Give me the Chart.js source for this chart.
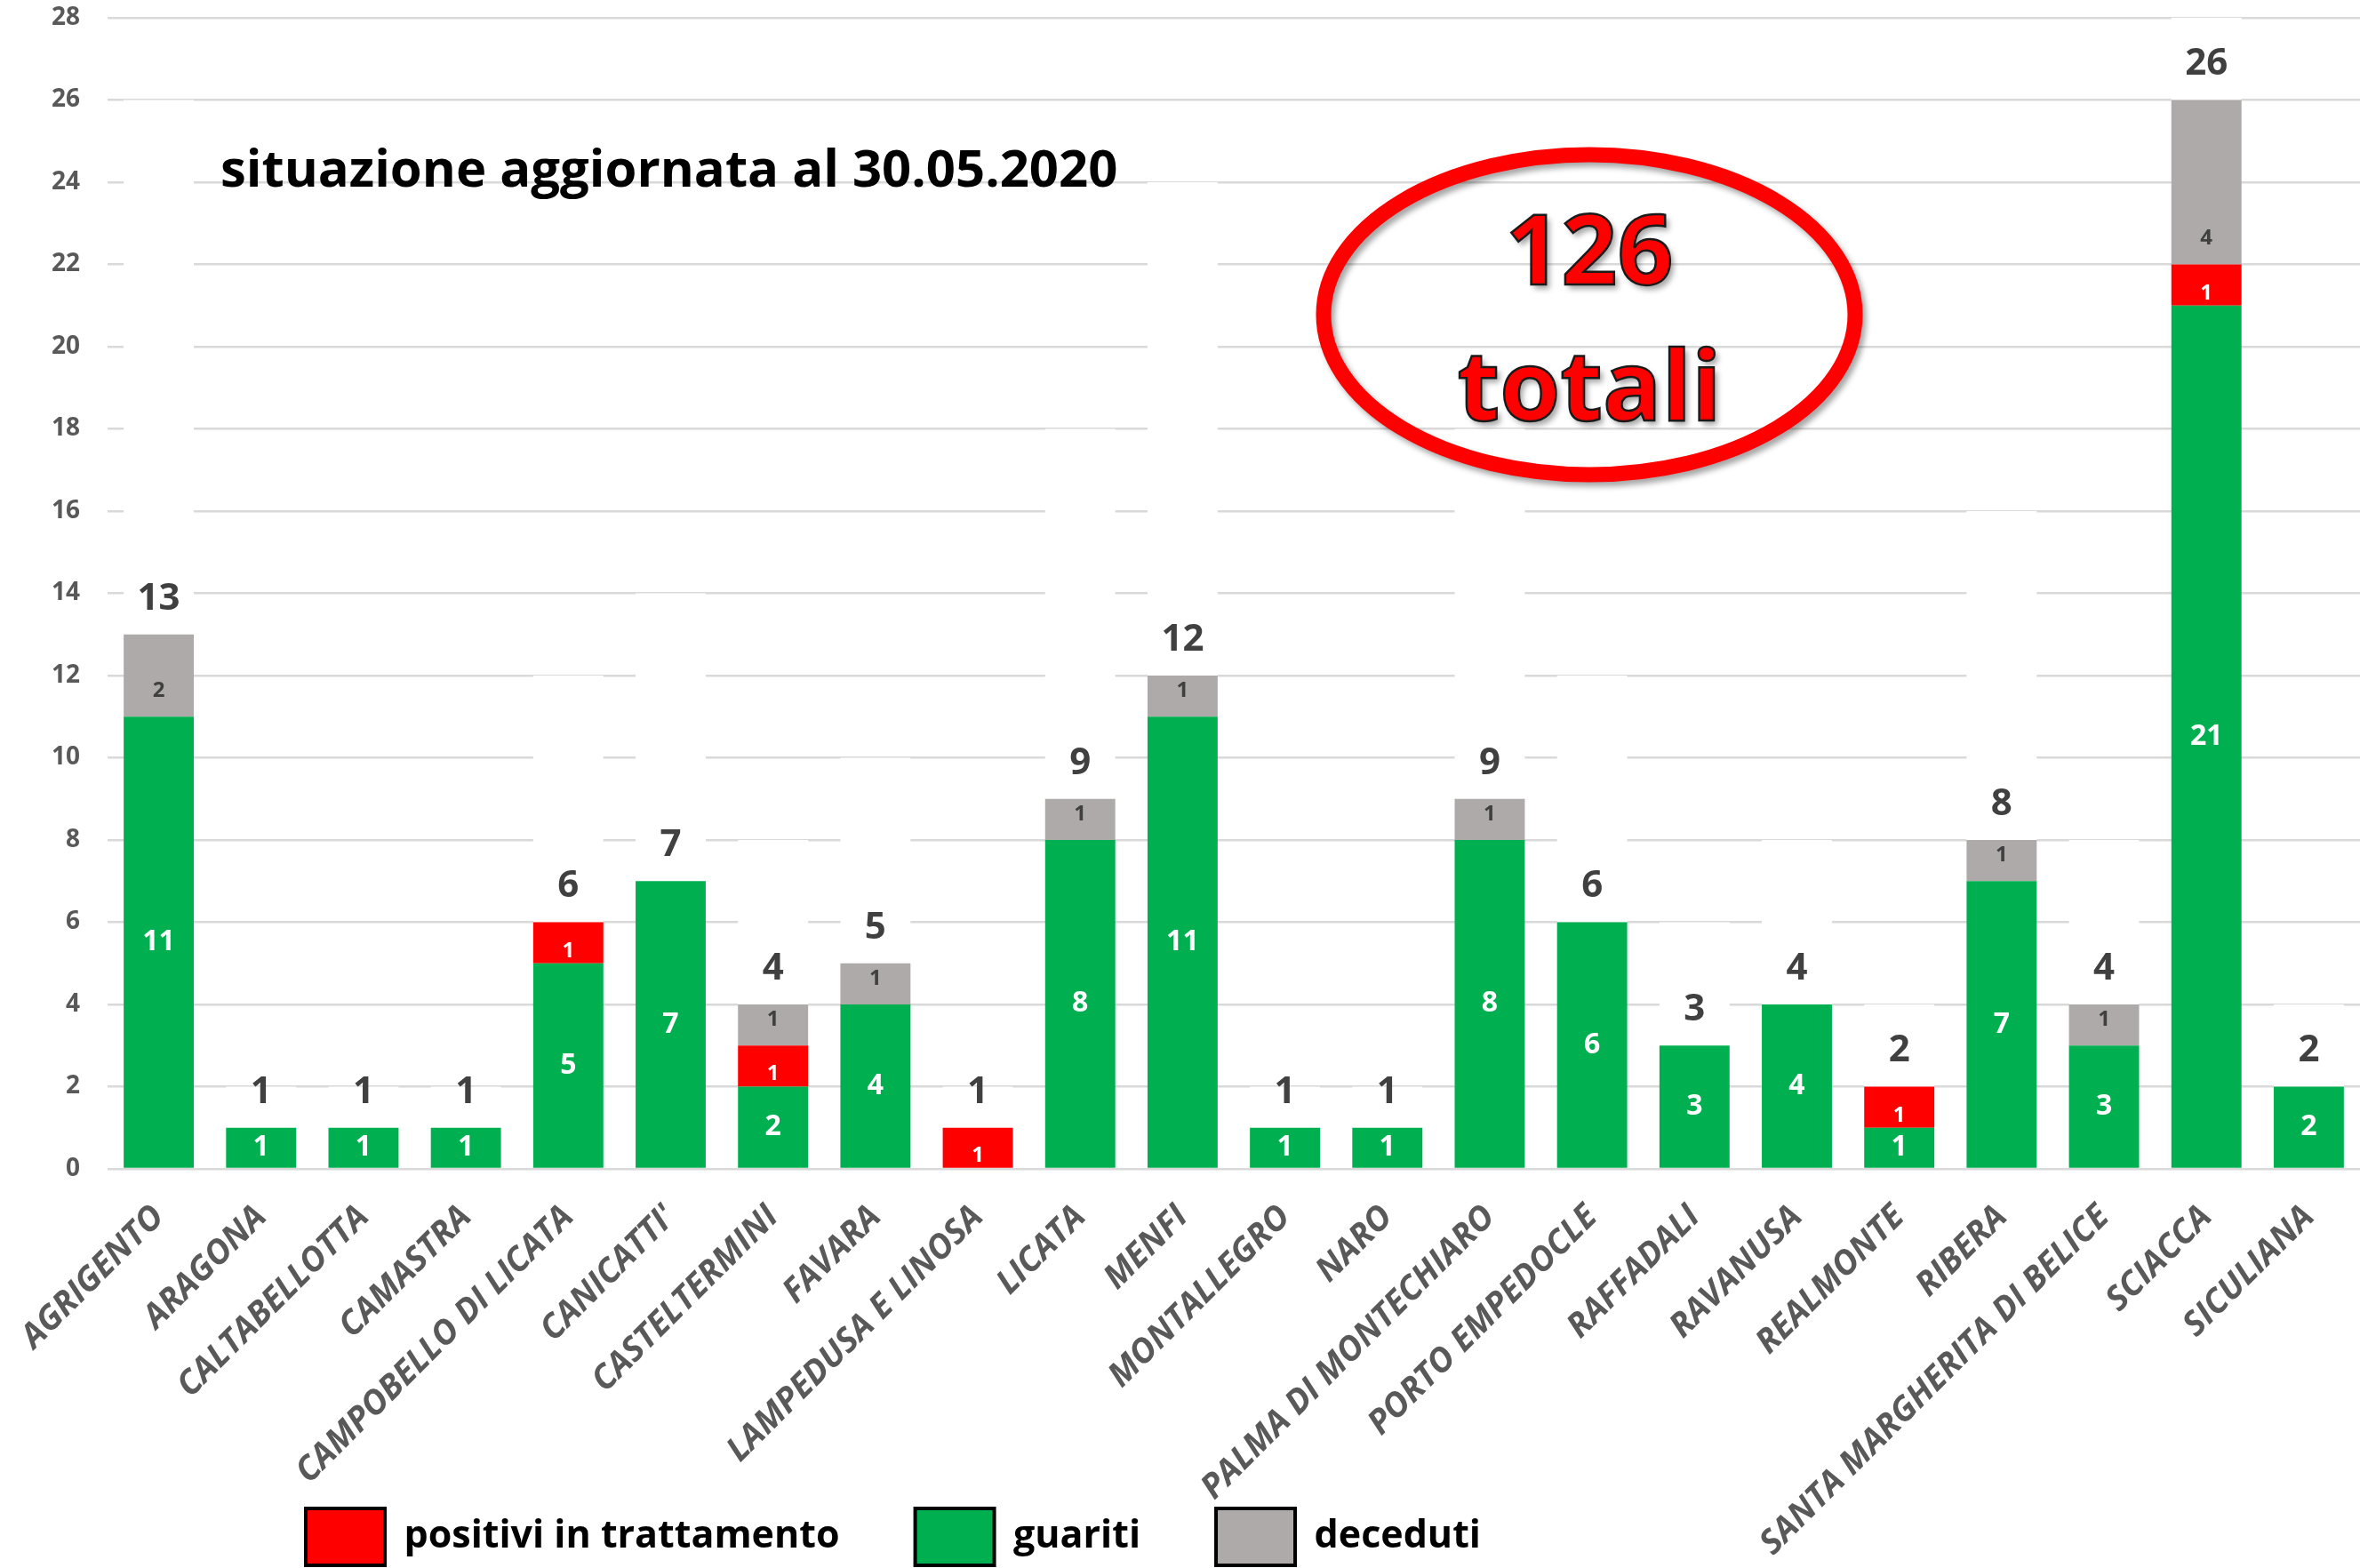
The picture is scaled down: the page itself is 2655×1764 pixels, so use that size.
<!DOCTYPE html>
<html>
<head>
<meta charset="utf-8">
<script src="https://cdn.jsdelivr.net/npm/chart.js@4.4.1/dist/chart.umd.min.js"></script>
<style>
  html, body { margin: 0; padding: 0; background: #fff; }
</style>
</head>
<body>
<canvas id="grafico" width="2655" height="1764"></canvas>
<script>
const comuni = ["AGRIGENTO", "ARAGONA", "CALTABELLOTTA", "CAMASTRA", "CAMPOBELLO DI LICATA",
  "CANICATTI'", "CASTELTERMINI", "FAVARA", "LAMPEDUSA E LINOSA", "LICATA", "MENFI",
  "MONTALLEGRO", "NARO", "PALMA DI MONTECHIARO", "PORTO EMPEDOCLE", "RAFFADALI",
  "RAVANUSA", "REALMONTE", "RIBERA", "SANTA MARGHERITA DI BELICE", "SCIACCA", "SICULIANA"];
const guariti  = [11, 1, 1, 1, 5, 7, 2, 4, 0, 8, 11, 1, 1, 8, 6, 3, 4, 1, 7, 3, 21, 2];
const positivi = [0, 0, 0, 0, 1, 0, 1, 0, 1, 0, 0, 0, 0, 0, 0, 0, 0, 1, 0, 0, 1, 0];
const deceduti = [2, 0, 0, 0, 0, 0, 1, 1, 0, 1, 1, 0, 0, 1, 0, 0, 0, 0, 1, 1, 4, 0];
const totali   = [13, 1, 1, 1, 6, 7, 4, 5, 1, 9, 12, 1, 1, 9, 6, 3, 4, 2, 8, 4, 26, 2];
const yMax = 28;
const yStep = 2;
const titolo = "situazione aggiornata al 30.05.2020";
const totaleGenerale = ["126", "totali"];

Chart.defaults.font.family = "'Open Sans', sans-serif";

// numeri dentro e sopra le barre
const etichette = {
  id: "etichette",
  afterDatasetsDraw(chart) {
    const ctx = chart.ctx;
    ctx.save();
    ctx.textAlign = "center";
    ctx.textBaseline = "middle";
    chart.data.datasets.forEach((ds, di) => {
      const meta = chart.getDatasetMeta(di);
      meta.data.forEach((bar, i) => {
        const v = ds.data[i];
        if (!v) return;
        let y;
        if (di === 0) {
          ctx.font = "700 32px 'Open Sans'";
          ctx.fillStyle = "#ffffff";
          y = (bar.y + bar.base) / 2;
        } else if (di === 1) {
          ctx.font = "700 24px 'Open Sans'";
          ctx.fillStyle = "#ffffff";
          y = bar.base - 14;
        } else if (di === 2) {
          ctx.font = "700 24px 'Open Sans'";
          ctx.fillStyle = "#404040";
          y = bar.base - 29;
        } else {
          ctx.font = "700 42px 'Open Sans'";
          ctx.fillStyle = "#404040";
          y = bar.base - 40;
        }
        ctx.fillText(String(v), bar.x, y);
      });
    });
    ctx.restore();
  }
};

// titolo e ovale con il totale
const decorazioni = {
  id: "decorazioni",
  afterLayout(chart) {
    // legenda spostata come nell'originale, etichette x libere fino in fondo
    chart.legend.left = 259;
    chart.legend.top += 7;
    chart.legend.bottom += 7;
    chart.scales.x.bottom = chart.height;
  },
  afterDraw(chart) {
    const ctx = chart.ctx;
    ctx.save();
    ctx.fillStyle = "#000";
    ctx.font = "700 58px 'Open Sans'";
    ctx.textAlign = "left";
    ctx.textBaseline = "alphabetic";
    ctx.fillText(titolo, 248, 210);

    ctx.shadowColor = "rgba(0,0,0,0.35)";
    ctx.shadowOffsetX = 4;
    ctx.shadowOffsetY = 5;
    ctx.shadowBlur = 6;
    ctx.beginPath();
    ctx.ellipse(1788, 354, 299, 180, 0, 0, Math.PI * 2);
    ctx.strokeStyle = "#ff0000";
    ctx.lineWidth = 17;
    ctx.stroke();

    ctx.font = "700 110px 'Open Sans'";
    ctx.textAlign = "center";
    ctx.fillStyle = "#ff0000";
    ctx.fillText(totaleGenerale[0], 1788, 320);
    ctx.fillText(totaleGenerale[1], 1788, 473);
    ctx.shadowColor = "transparent";
    ctx.strokeStyle = "#1a1a1a";
    ctx.lineWidth = 2.5;
    ctx.strokeText(totaleGenerale[0], 1788, 320);
    ctx.strokeText(totaleGenerale[1], 1788, 473);
    ctx.restore();
  }
};

const ordineLegenda = [1, 0, 2, 3];

new Chart(document.getElementById("grafico"), {
  type: "bar",
  data: {
    labels: comuni,
    datasets: [
      { label: "guariti", data: guariti, backgroundColor: "#00B050" },
      { label: "positivi in trattamento", data: positivi, backgroundColor: "#FF0000" },
      { label: "deceduti", data: deceduti, backgroundColor: "#AEAAAA" },
      { label: "totale", data: totali, backgroundColor: "#ffffff" }
    ]
  },
  options: {
    responsive: false,
    animation: false,
    devicePixelRatio: 1,
    categoryPercentage: 1,
    barPercentage: 0.685,
    layout: { padding: { top: 20, right: 0, left: 0, bottom: 0 } },
    scales: {
      x: {
        stacked: true,
        grid: { display: false },
        border: { display: false },
        ticks: {
          autoSkip: false,
          minRotation: 45,
          maxRotation: 45,
          padding: 24,
          color: "#595959",
          font: { size: 38, style: "italic", weight: "700" }
        },
        afterFit(scale) { scale.height = 290; }
      },
      y: {
        stacked: true,
        min: 0,
        max: yMax,
        grid: { color: "#D9D9D9", lineWidth: 2.5, drawTicks: false },
        border: { display: false },
        ticks: {
          stepSize: yStep,
          padding: 31,
          color: "#595959",
          font: { size: 28, weight: "700" }
        },
        afterFit(scale) {
          scale.width = 121;
          scale.paddingTop = 0;
          scale.paddingBottom = 0;
        }
      }
    },
    plugins: {
      tooltip: { enabled: false },
      legend: {
        position: "bottom",
        align: "start",
        labels: {
          boxWidth: 89,
          boxHeight: 64,
          padding: 85,
          color: "#000",
          font: { size: 43, weight: "700" },
          filter: (item) => item.datasetIndex !== 3,
          sort: (a, b) => ordineLegenda[a.datasetIndex] - ordineLegenda[b.datasetIndex],
          generateLabels(chart) {
            const items = Chart.defaults.plugins.legend.labels.generateLabels(chart);
            items.forEach((it) => { it.strokeStyle = "#000"; it.lineWidth = 4; });
            return items;
          }
        }
      }
    }
  },
  plugins: [etichette, decorazioni]
});
</script>
</body>
</html>
